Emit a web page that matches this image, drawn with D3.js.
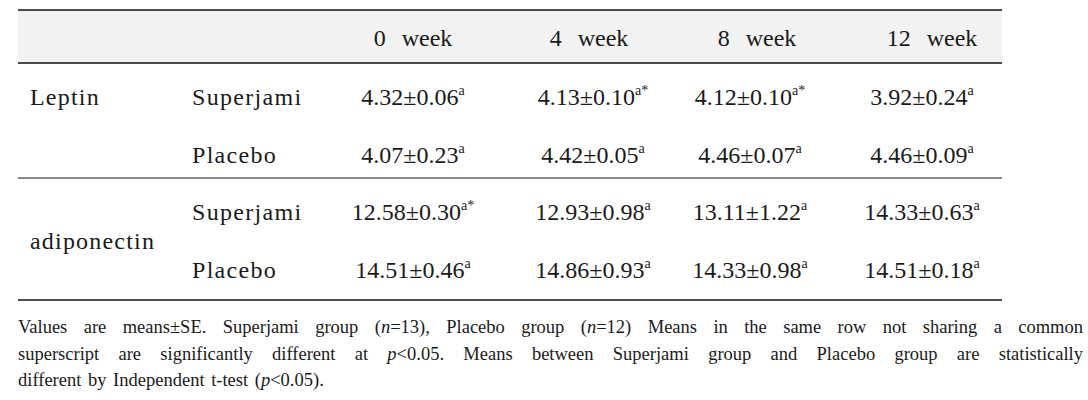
<!DOCTYPE html>
<html>
<head>
<meta charset="utf-8">
<script src="https://cdn.jsdelivr.net/npm/d3@7"></script>
<style>
  body { margin: 0; background: #fff; }
  #chart { position: relative; width: 1088px; height: 400px; }
  #note {
    position: absolute; left: 18px; top: 314px; width: 1065px;
    font-family: "Liberation Serif", serif; font-size: 18.5px; line-height: 26.5px;
    color: #1a1a1a; word-spacing: 2px;
  }
  #note div { text-align: justify; text-align-last: justify; white-space: nowrap; }
  #note div:last-child { text-align-last: left; }
</style>
</head>
<body>
<div id="chart"></div>
<script>
// table content
const weeks = ["0  week", "4  week", "8  week", "12  week"];
const markers = ["Leptin", "adiponectin"];
const groups = ["Superjami", "Placebo"];

const leptinMeans = [[4.32, 4.13, 4.12, 3.92], [4.07, 4.42, 4.46, 4.46]];
const leptinSE = [[0.06, 0.10, 0.10, 0.24], [0.23, 0.05, 0.07, 0.09]];
const leptinSup = [["a", "a*", "a*", "a"], ["a", "a", "a", "a"]];

const adipoMeans = [[12.58, 12.93, 13.11, 14.33], [14.51, 14.86, 14.33, 14.51]];
const adipoSE = [[0.30, 0.98, 1.22, 0.63], [0.46, 0.93, 0.98, 0.18]];
const adipoSup = [["a*", "a", "a", "a"], ["a", "a", "a", "a"]];

const footnoteLines = [
    "Values are means\u00b1SE. Superjami group (<i>n</i>=13), Placebo group (<i>n</i>=12) Means in the same row not sharing a common",
    "superscript are significantly different at <i>p</i>&lt;0.05. Means between Superjami group and Placebo group are statistically",
    "different by Independent t-test (<i>p</i>&lt;0.05)."
];

const config = {
    width: 1088, height: 400,
    left: 18, right: 1002,
    top: 10, headerBottom: 63, middle: 178, bottom: 300,
    font: '"Liberation Serif", serif', fontSize: 24
};

const svg = d3.select("#chart").append("svg")
    .attr("width", config.width)
    .attr("height", config.height)
    .style("position", "absolute").style("left", 0).style("top", 0);

// column centers, header and values sit a little differently
const xHead = d3.scaleOrdinal().domain(weeks).range([413, 589, 757, 932]);
const xVal = d3.scaleOrdinal().domain(weeks).range([413, 593, 750, 922]);

// rows
const rows = [];
markers.forEach((m, mi) => {
    groups.forEach((g, gi) => {
        const means = mi == 0 ? leptinMeans : adipoMeans;
        const se = mi == 0 ? leptinSE : adipoSE;
        const sup = mi == 0 ? leptinSup : adipoSup;
        rows.push({
            marker: m, group: g,
            cells: weeks.map((w, i) => ({week: w, mean: means[gi][i], se: se[gi][i], sup: sup[gi][i]}))
        });
    });
});

const y = d3.scaleOrdinal()
    .domain(rows.map(d => d.marker + d.group))
    .range([97, 155, 212, 270]);
const yMarker = d3.scaleOrdinal().domain(markers).range([97, 241]);

// header background
svg.append("rect")
    .attr("x", config.left).attr("y", config.top)
    .attr("width", config.right - config.left)
    .attr("height", config.headerBottom - config.top)
    .attr("fill", "#f2f2f2");

// rules
[[config.top, 1.5], [config.headerBottom, 1.5], [config.middle, 1.2], [config.bottom, 1.5]].forEach(([yy, w]) => {
    svg.append("line")
        .attr("x1", config.left).attr("x2", config.right)
        .attr("y1", yy).attr("y2", yy)
        .attr("stroke", "#111").attr("stroke-width", w);
});

function baseText(sel) {
    return sel
        .attr("dy", "0.35em")
        .attr("font-family", config.font)
        .attr("font-size", config.fontSize)
        .attr("fill", "#1a1a1a");
}

// header
svg.selectAll(".head")
    .data(weeks)
    .join("text")
    .attr("class", "head")
    .attr("x", d => xHead(d))
    .attr("y", 38)
    .attr("text-anchor", "middle")
    .style("white-space", "pre")
    .style("word-spacing", "2px")
    .call(baseText)
    .text(d => d);

// marker labels
svg.selectAll(".marker")
    .data(markers)
    .join("text")
    .attr("class", "marker")
    .attr("x", 30)
    .attr("y", d => yMarker(d))
    .style("letter-spacing", "1.2px")
    .call(baseText)
    .text(d => d);

// group labels
svg.selectAll(".group")
    .data(rows)
    .join("text")
    .attr("class", "group")
    .attr("x", 192)
    .attr("y", d => y(d.marker + d.group))
    .style("letter-spacing", "1.3px")
    .call(baseText)
    .text(d => d.group);

// value cells
const fmt = d3.format(".2f");
rows.forEach(r => {
    const t = svg.selectAll(null)
        .data(r.cells)
        .join("text")
        .attr("x", d => xVal(d.week))
        .attr("y", y(r.marker + r.group))
        .attr("text-anchor", "middle")
        .call(baseText);
    t.append("tspan").text(d => fmt(d.mean) + "\u00b1" + fmt(d.se));
    t.append("tspan")
        .attr("font-size", 14)
        .attr("dy", "-0.75em")
        .text(d => d.sup);
});

d3.select("#chart").append("div")
    .attr("id", "note")
    .selectAll("div")
    .data(footnoteLines)
    .join("div")
    .html(d => d);
</script>
</body>
</html>
